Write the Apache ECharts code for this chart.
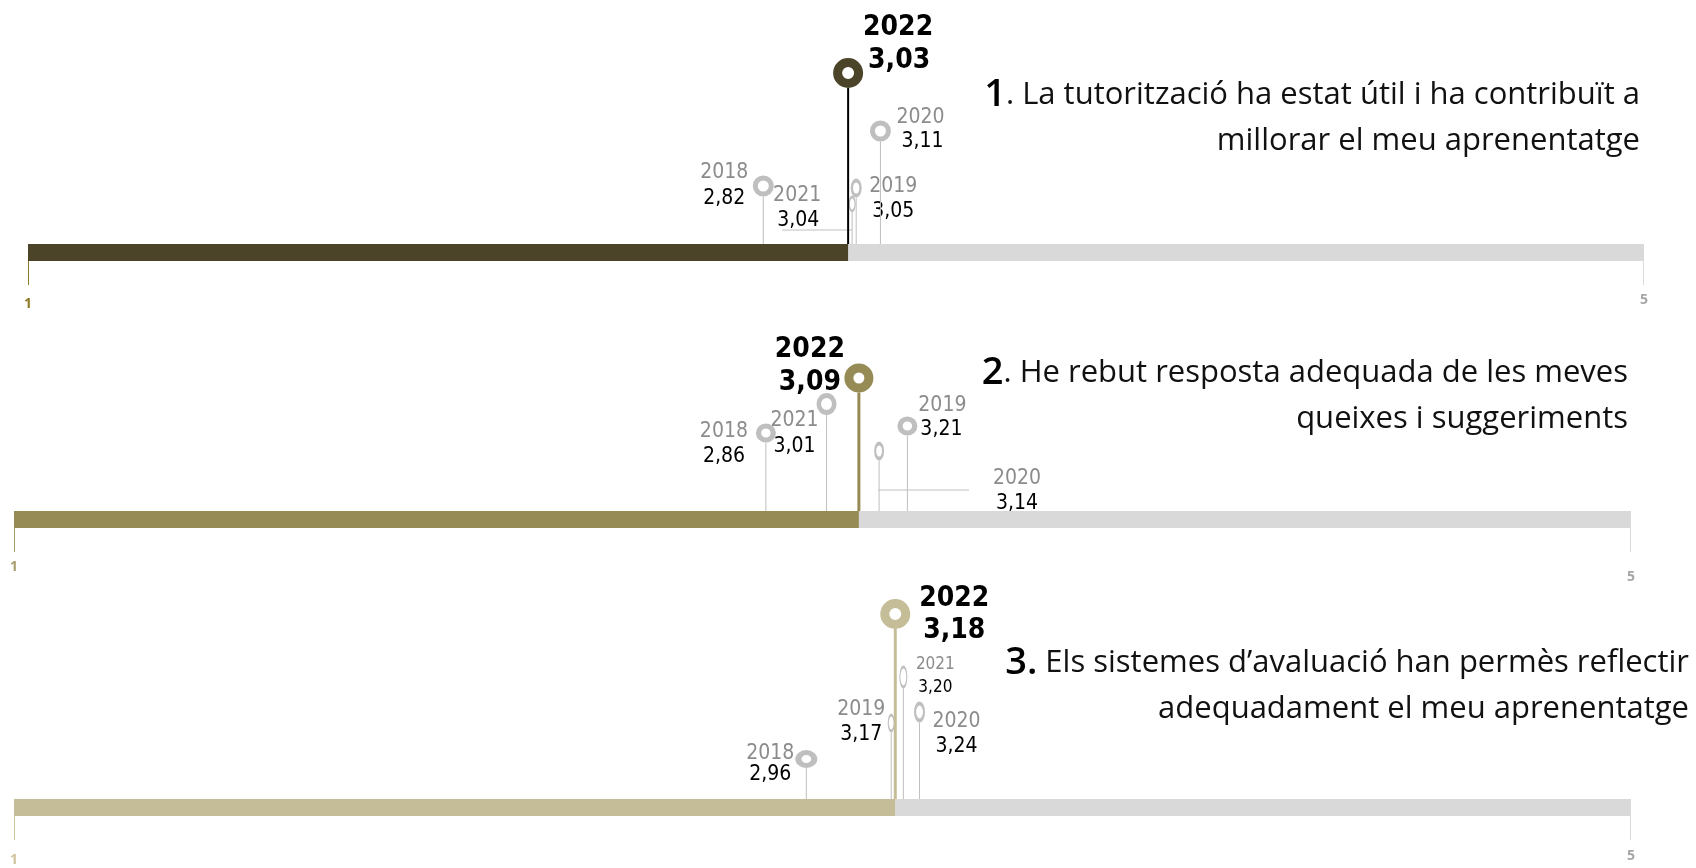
<!DOCTYPE html>
<html>
<head>
<meta charset="utf-8">
<script src="https://cdn.jsdelivr.net/npm/echarts@6/dist/echarts.min.js"></script>
<style>
html, body { margin: 0; padding: 0; background: #fff; }
#chart { width: 1696px; height: 868px; }
</style>
</head>
<body>
<div id="chart"></div>
<script>
// data
const years = ['2018', '2019', '2020', '2021', '2022'];
const q1Values = [2.82, 3.05, 3.11, 3.04, 3.03];
const q2Values = [2.86, 3.21, 3.14, 3.01, 3.09];
const q3Values = [2.96, 3.17, 3.24, 3.20, 3.18];
const questionNumbers = ['1', '2', '3.'];
const questionLines = [
    ['. La tutorització ha estat útil i ha contribuït a', 'millorar el meu aprenentatge'],
    ['. He rebut resposta adequada de les meves', 'queixes i suggeriments'],
    [' Els sistemes d\u2019avaluació han permès reflectir', 'adequadament el meu aprenentatge']
]
const scaleMin = 1
const scaleMax = 5
const tickLabels = ['1', '5']

// layout / style
const W = 1696
const BAR_H = 17
const GREY = '#BFBFBF'
const panels = [
    { values: q1Values, barTop: 244, left: 28, right: 52, color: '#4B4429', stem: '#000000', stemW: 2,
      tickColor: '#8E7B26', titleRight: 56, titleTop: 72, pad1: 6, pad5: 2 },
    { values: q2Values, barTop: 511, left: 14, right: 65, color: '#968A55', stem: '#968A55', stemW: 3,
      tickColor: '#A99D6B', titleRight: 68, titleTop: 350, pad1: 2, pad5: 12 },
    { values: q3Values, barTop: 799, left: 14, right: 65, color: '#C5BC98', stem: '#C5BC98', stemW: 3,
      tickColor: '#CFC49B', titleRight: 7, titleTop: 640, pad1: 7, pad5: 3 }
]
// per pin: stem height (px above bar), marker [w,h], ring width, year label offset, value label offset
const pins = [
    [
        { h: 58, m: [21, 21], lw: 5, yo: [-39, -13], vo: [-39, 13] },
        { h: 56, m: [11, 19], lw: 4, yo: [37, -1], vo: [37, 24] },
        { h: 113, m: [21, 21], lw: 5, yo: [40, -13], vo: [42, 11] },
        { h: 40, m: [7, 17], lw: 3, yo: [-55, -8], vo: [-54, 17], leader: [-70, 0, 26] },
        { h: 171, m: [30, 30], lw: 9, yo: [50, -45], vo: [51, -12] }
    ],
    [
        { h: 78, m: [20, 19], lw: 5, yo: [-42, -1], vo: [-42, 24] },
        { h: 85, m: [20, 19], lw: 5, yo: [35, -20], vo: [34, 4] },
        { h: 60, m: [10, 19], lw: 4, yo: [138, 28], vo: [138, 53], leader: [-1, 90, 39] },
        { h: 107, m: [20, 22], lw: 5, yo: [-32, 17], vo: [-32, 43] },
        { h: 133, m: [29, 29], lw: 9, yo: [-49, -28], vo: [-49, 5] }
    ],
    [
        { h: 40, m: [22, 18], lw: 5, yo: [-36, -5], vo: [-36, 16] },
        { h: 76, m: [7, 19], lw: 3, yo: [-30, -13], vo: [-30, 12] },
        { h: 87, m: [11, 21], lw: 4, yo: [37, 10], vo: [37, 35] },
        { h: 122, m: [8, 23], lw: 3, yo: [32, -12], vo: [32, 11], small: true },
        { h: 185, m: [30, 30], lw: 9, yo: [59, -15], vo: [59, 17] }
    ]
]

const LABEL_FONT = '"DejaVu Sans Condensed", "Liberation Sans Narrow", sans-serif'
const TITLE_FONT = '"Open Sans", Lato, sans-serif'
const fmt = v => v.toFixed(2).replace('.', ',')

const chart = echarts.init(document.getElementById('chart'))

// barra horitzontal + marques de l'eix
const renderBar = k => (params, api) => {
    const P = panels[k]
    const v = api.value(0)
    const a = api.coord([scaleMin, 0])
    const b = api.coord([v, 0])
    const c = api.coord([scaleMax, 0])
    const bot = api.coord([scaleMin, -BAR_H])[1]
    const h = bot - a[1]
    return {
        type: 'group',
        children: [
            { type: 'rect', shape: { x: b[0], y: a[1], width: c[0] - b[0], height: h }, style: { fill: '#D9D9D9' } },
            { type: 'rect', shape: { x: a[0], y: a[1], width: b[0] - a[0], height: h }, style: { fill: P.color } },
            { type: 'line', shape: { x1: a[0] + 0.5, y1: bot, x2: a[0] + 0.5, y2: bot + 24 }, style: { stroke: P.tickColor, lineWidth: 1 } },
            { type: 'line', shape: { x1: c[0] - 0.5, y1: bot, x2: c[0] - 0.5, y2: bot + 24 }, style: { stroke: '#D9D9D9', lineWidth: 1 } }
        ]
    }
}

// piruletes per any
const renderPin = k => (params, api) => {
    const P = panels[k]
    const v = api.value(0)
    const i = api.value(1)
    const L = pins[k][i]
    const cur = i === years.length - 1
    const base = api.coord([v, 0])
    const c = api.coord([v, L.h])
    const [w, hh] = L.m
    const font = cur ? `bold 28px ${LABEL_FONT}` : `${L.small ? 17 : 21}px ${LABEL_FONT}`
    const children = [
        { type: 'line', shape: { x1: c[0], y1: c[1] + hh / 2, x2: base[0], y2: base[1] },
          style: { stroke: cur ? P.stem : GREY, lineWidth: cur ? P.stemW : 1 } },
        { type: 'circle', x: c[0], y: c[1], scaleX: w / hh, shape: { cx: 0, cy: 0, r: hh / 2 - L.lw / 2 },
          style: { fill: '#fff', stroke: cur ? P.color : GREY, lineWidth: L.lw } },
        { type: 'text', x: c[0] + L.yo[0], y: c[1] + L.yo[1],
          style: { text: years[i], fill: cur ? '#000' : '#8C8C8C', align: 'center', verticalAlign: 'middle', font } },
        { type: 'text', x: c[0] + L.vo[0], y: c[1] + L.vo[1],
          style: { text: fmt(v), fill: '#000', align: 'center', verticalAlign: 'middle', font } }
    ]
    if (L.leader) {
        children.push({ type: 'line', shape: { x1: c[0] + L.leader[0], y1: c[1] + L.leader[2], x2: c[0] + L.leader[1], y2: c[1] + L.leader[2] },
            style: { stroke: GREY, lineWidth: 1 } })
    }
    return { type: 'group', children }
}

const option = {
    animation: false,
    backgroundColor: '#fff',
    graphic: panels.map((P, k) => ({
        type: 'text',
        x: W - P.titleRight,
        y: P.titleTop,
        style: {
            text: `{n|${questionNumbers[k]}}${questionLines[k][0]}\n${questionLines[k][1]}`,
            align: 'right',
            verticalAlign: 'top',
            font: `31px ${TITLE_FONT}`,
            lineHeight: 46,
            fill: '#111',
            rich: {
                n: { fontSize: 38, fontFamily: TITLE_FONT, fontWeight: 600, fill: '#000', lineHeight: 46 }
            }
        }
    })),
    grid: panels.map(P => ({
        left: P.left, right: P.right, top: P.barTop - 200, height: 200 + BAR_H
    })),
    xAxis: panels.map((P, k) => ({
        type: 'value', gridIndex: k, min: scaleMin, max: scaleMax, interval: scaleMax - scaleMin,
        axisLine: { show: false }, axisTick: { show: false }, splitLine: { show: false },
        axisLabel: {
            margin: 30,
            showMinLabel: true, showMaxLabel: true,
            formatter: v => v === scaleMin ? `{a|${tickLabels[0]}}` : `{b|${tickLabels[1]}}`,
            rich: {
                a: { color: P.tickColor, fontSize: 14, fontWeight: 'bold', fontFamily: TITLE_FONT, padding: [P.pad1, 0, 0, 0] },
                b: { color: '#A6A6A6', fontSize: 14, fontWeight: 'bold', fontFamily: TITLE_FONT, padding: [P.pad5, 0, 0, 0] }
            }
        }
    })),
    yAxis: panels.map((P, k) => ({
        type: 'value', gridIndex: k, min: -BAR_H, max: 200, show: false
    })),
    series: panels.flatMap((P, k) => [
        {
            type: 'custom', xAxisIndex: k, yAxisIndex: k, z: 2,
            data: P.values.map((v, i) => [v, i]),
            renderItem: renderPin(k)
        },
        {
            type: 'custom', xAxisIndex: k, yAxisIndex: k, z: 3,
            data: [[P.values[years.length - 1]]],
            renderItem: renderBar(k)
        }
    ])
}

chart.setOption(option)
window.addEventListener('resize', () => chart.resize())
</script>
</body>
</html>
